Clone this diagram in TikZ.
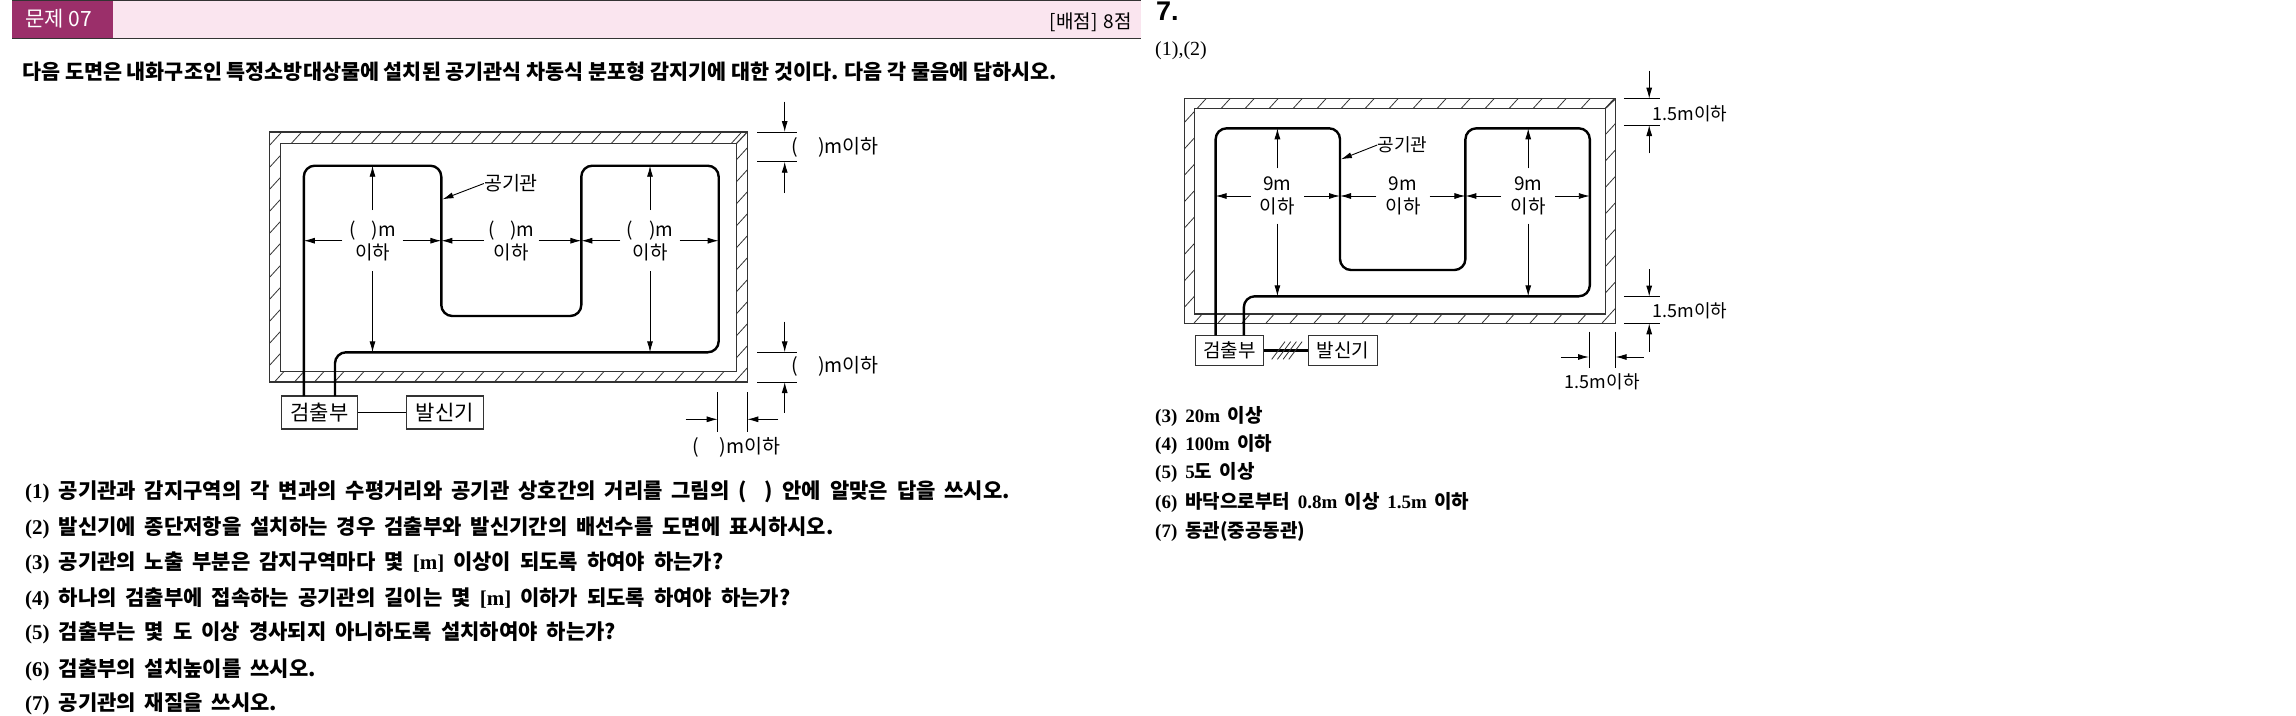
\documentclass[tikz,border=0pt]{standalone}
\usepackage{fontspec}
\setmainfont{Liberation Serif}
\newfontfamily\krfont{Noto Sans CJK KR}
\newfontfamily\latfont{Liberation Serif}
\newfontfamily\headfont{Liberation Sans}
\usetikzlibrary{arrows.meta, positioning}
\definecolor{bandpurple}{HTML}{9B2F6A}
\definecolor{bandpink}{HTML}{FAE5EF}
\definecolor{wallgray}{HTML}{333333}

\begin{document}
\begin{tikzpicture}[
        x=1pt, y=-1pt,
        >={Latex[length=11pt,width=6pt]},
        wall/.style={draw=wallgray, line width=1.1pt},
        hatchline/.style={draw=wallgray, line width=0.8pt},
        tube/.style={draw=black, line width=2.4pt, rounded corners=11pt},
        dimline/.style={draw=black, line width=0.9pt},
        dimarrow/.style={dimline, ->},
        unitbox/.style={rectangle, draw=wallgray, line width=1.1pt, fill=white, inner sep=0pt,
                        font=\krfont\fontsize{19}{21}\selectfont},
        span/.style={rectangle, inner sep=0pt, align=center, minimum height=61pt,
                     font=\krfont\fontsize{19}{23}\selectfont},
        spanb/.style={span, minimum height=55pt},
        dimtext/.style={inner sep=0pt, font=\krfont\fontsize{18}{21}\selectfont},
        dimtexta/.style={inner sep=0pt, font=\krfont\fontsize{19.5}{21}\selectfont},
        leadline/.style={anchor=west, inner sep=0pt, font=\krfont\bfseries\fontsize{20.7}{24}\selectfont},
        question/.style={anchor=west, inner sep=0pt, font={\krfont\bfseries\fontsize{21}{24}\selectfont\spaceskip=9pt\relax}},
        answer/.style={anchor=west, inner sep=0pt, font={\krfont\bfseries\fontsize{19}{22}\selectfont\spaceskip=7.5pt\relax}}
    ]
        \path[use as bounding box, fill=white] (0,0) rectangle (2296,715);

        % header band
        \fill[bandpink] (12,1) rectangle (1141,38);
        \fill[bandpurple] (12,1) rectangle (113,38);
        \draw[wallgray, line width=1pt] (12,38.5) -- (1141,38.5);
        \draw[wallgray, line width=1pt] (12,0.5) -- (1141,0.5);
        \node[anchor=west, inner sep=0pt, text=white, font=\krfont\fontsize{21}{24}\selectfont] (bandno) at (25,19) {문제 07};
        \node[anchor=east, inner sep=0pt, font={\krfont\fontsize{19}{20}\selectfont\spaceskip=6pt\relax}] (bandscore) at (1132,22) {[배점] 8점};
        \node[leadline] (lead) at (22,72) {다음 도면은 내화구조인 특정소방대상물에 설치된 공기관식 차동식 분포형 감지기에 대한 것이다. 다음 각 물음에 답하시오.};

        % left plan, wall
        \begin{scope}
            \clip (269.5,132) rectangle (747.3,382);
            \foreach \c in {281.7,301.7,...,1000}
                \draw[hatchline] ({\c},132) -- ({\c-300},462);
        \end{scope}
        \draw[wall] (269.5,132) rectangle (747.3,382);
        \draw[wall, fill=white] (280.5,143.3) rectangle (736.7,371.5);
        \draw[wall] (736.7,143.3) -- (747.3,132);

        \node[unitbox, minimum width=76pt, minimum height=33pt, font=\krfont\fontsize{21}{23}\selectfont] (detleft) at (319.6,412.5) {검출부};
        \node[unitbox, minimum width=76.5pt, minimum height=33pt, font=\krfont\fontsize{21}{23}\selectfont] (senderleft) at (444.8,412.5) {발신기};
        \draw[line width=1.4pt] (detleft) -- (senderleft);

        \coordinate (tubeina) at (303.8,396);
        \coordinate (tubeouta) at (335,396);
        \draw[tube] (tubeina) -- (303.8,165.7) -- (441.3,165.7) -- (441.3,316) -- (581.3,316)
            -- (581.3,165.7) -- (718.7,165.7) -- (718.7,352.3) -- (335,352.3) -- (tubeouta);

        \node[span, minimum width=60pt] (spana) at (372.5,240.7) {(\hspace{16pt})m\\이하};
        \node[span, minimum width=54pt] (spanb) at (511.3,240.7) {(\hspace{16pt})m\\이하};
        \node[span, minimum width=59pt] (spanc) at (650,240.7) {(\hspace{16pt})m\\이하};
        \draw[dimarrow] (spana) -- (303.8,240.7);
        \draw[dimarrow] (spana) -- (441.3,240.7);
        \draw[dimarrow] (spana) -- (372.5,165.7);
        \draw[dimarrow] (spana) -- (372.5,352.3);
        \draw[dimarrow] (spanb) -- (441.3,240.7);
        \draw[dimarrow] (spanb) -- (581.3,240.7);
        \draw[dimarrow] (spanc) -- (581.3,240.7);
        \draw[dimarrow] (spanc) -- (718.7,240.7);
        \draw[dimarrow] (spanc) -- (650,165.7);
        \draw[dimarrow] (spanc) -- (650,352.3);

        \node[dimtexta] (tubelabela) at (511,183.5) {공기관};
        \draw[dimarrow] (tubelabela.west) -- (442.5,199.3);

        % left plan, outer dimensions
        \draw[dimline] (757,132) -- (797,132);
        \draw[dimline] (757,161.7) -- (797,161.7);
        \draw[dimarrow] (784.7,101.7) -- (784.7,132);
        \draw[dimarrow] (784.7,193) -- (784.7,161.7);
        \node[dimtexta] (topa) at (835,147.3) {(\hspace{20pt})m이하};
        \draw[dimline] (757,352.3) -- (797,352.3);
        \draw[dimline] (757,382) -- (797,382);
        \draw[dimarrow] (784.7,321.7) -- (784.7,352.3);
        \draw[dimarrow] (784.7,412.7) -- (784.7,382);
        \node[dimtexta] (bota) at (835,366.7) {(\hspace{20pt})m이하};
        \draw[dimline] (717.7,392.3) -- (717.7,431.7);
        \draw[dimline] (747.3,392.3) -- (747.3,431.7);
        \draw[dimarrow] (685.6,419.3) -- (717.7,419.3);
        \draw[dimarrow] (778.4,419.3) -- (747.3,419.3);
        \node[dimtexta] (sidea) at (736.5,447.3) {(\hspace{20pt})m이하};

        % questions
        \node[question] (qa) at (25,492.3) {{\latfont(1)} 공기관과 감지구역의 각 변과의 수평거리와 공기관 상호간의 거리를 그림의 (\hspace{18pt}) 안에 알맞은 답을 쓰시오.};
        \node[question] (qb) at (25,528) {{\latfont(2)} 발신기에 종단저항을 설치하는 경우 검출부와 발신기간의 배선수를 도면에 표시하시오.};
        \node[question] (qc) at (25,563) {{\latfont(3)} 공기관의 노출 부분은 감지구역마다 몇 {\latfont[m]} 이상이 되도록 하여야 하는가?};
        \node[question] (qd) at (25,599) {{\latfont(4)} 하나의 검출부에 접속하는 공기관의 길이는 몇 {\latfont[m]} 이하가 되도록 하여야 하는가?};
        \node[question] (qe) at (25,633) {{\latfont(5)} 검출부는 몇 도 이상 경사되지 아니하도록 설치하여야 하는가?};
        \node[question] (qf) at (25,670) {{\latfont(6)} 검출부의 설치높이를 쓰시오.};
        \node[question] (qg) at (25,704) {{\latfont(7)} 공기관의 재질을 쓰시오.};

        % right side, answer
        \node[anchor=west, inner sep=0pt, font=\headfont\bfseries\fontsize{27}{30}\selectfont] (ansno) at (1156,11) {7.};
        \node[anchor=west, inner sep=0pt, font=\latfont\fontsize{20}{22}\selectfont] (ansfirst) at (1155,51) {(1),(2)};

        % right plan, wall
        \begin{scope}
            \clip (1184.4,98.7) rectangle (1615.6,323.3);
            \foreach \c in {1206,1230,...,1900}
                \draw[hatchline] ({\c},98.7) -- ({\c-300},428.7);
        \end{scope}
        \draw[wall] (1184.4,98.7) rectangle (1615.6,323.3);
        \draw[wall, fill=white] (1194.4,108.3) rectangle (1605.6,314);
        \draw[wall] (1605.6,108.3) -- (1615.6,98.7);

        \node[unitbox, minimum width=68pt, minimum height=30.5pt] (detright) at (1229.7,350.5) {검출부};
        \node[unitbox, minimum width=69pt, minimum height=30.5pt] (senderright) at (1343,350.5) {발신기};
        \draw[line width=2.4pt] (detright) -- (senderright);
        \foreach \c in {1271.7,1277.4,1283.1,1288.8}
            \draw[hatchline] ({\c},359.3) -- ({\c+13.3},341.6);

        \coordinate (tubeinb) at (1215.6,335.3);
        \coordinate (tubeoutb) at (1243.8,335.3);
        \draw[tube] (tubeinb) -- (1215.6,128.3) -- (1340,128.3) -- (1340,270) -- (1465.4,270)
            -- (1465.4,128.3) -- (1589.8,128.3) -- (1589.8,296.3) -- (1243.8,296.3) -- (tubeoutb);

        \node[spanb, minimum width=53pt] (spand) at (1277.4,196) {9m\\이하};
        \node[spanb, minimum width=53pt] (spane) at (1403,196) {9m\\이하};
        \node[spanb, minimum width=54pt] (spanf) at (1528.2,196) {9m\\이하};
        \draw[dimarrow] (spand) -- (1215.6,196);
        \draw[dimarrow] (spand) -- (1340,196);
        \draw[dimarrow] (spand) -- (1277.4,128.3);
        \draw[dimarrow] (spand) -- (1277.4,296.3);
        \draw[dimarrow] (spane) -- (1340,196);
        \draw[dimarrow] (spane) -- (1465.4,196);
        \draw[dimarrow] (spanf) -- (1465.4,196);
        \draw[dimarrow] (spanf) -- (1589.8,196);
        \draw[dimarrow] (spanf) -- (1528.2,128.3);
        \draw[dimarrow] (spanf) -- (1528.2,296.3);

        \node[dimtext] (tubelabelb) at (1402.3,145) {공기관};
        \draw[dimarrow] (tubelabelb.west) -- (1340.9,159.3);

        % right plan, outer dimensions
        \draw[dimline] (1623.9,98.7) -- (1659.5,98.7);
        \draw[dimline] (1623.9,125) -- (1659.5,125);
        \draw[dimarrow] (1649.2,70.7) -- (1649.2,98.7);
        \draw[dimarrow] (1649.2,153.3) -- (1649.2,125);
        \node[dimtext] (topb) at (1690,113.3) {1.5m이하};
        \draw[dimline] (1623.9,296.6) -- (1659.5,296.6);
        \draw[dimline] (1623.9,323.3) -- (1659.5,323.3);
        \draw[dimarrow] (1649.2,269.3) -- (1649.2,296.6);
        \draw[dimarrow] (1649.2,351.7) -- (1649.2,323.3);
        \node[dimtext] (botb) at (1690,310.7) {1.5m이하};
        \draw[dimline] (1589,331.7) -- (1589,367.7);
        \draw[dimline] (1615.6,331.7) -- (1615.6,367.7);
        \draw[dimarrow] (1560.8,357) -- (1589,357);
        \draw[dimarrow] (1643.8,357) -- (1615.6,357);
        \node[dimtext] (sideb) at (1602.3,381.7) {1.5m이하};

        % answers
        \node[answer] (anc) at (1155,416) {{\latfont(3)\hspace{8pt}20m} 이상};
        \node[answer] (and) at (1155,444.3) {{\latfont(4)\hspace{8pt}100m} 이하};
        \node[answer] (ane) at (1155,472.7) {{\latfont(5)\hspace{8pt}5}도 이상};
        \node[answer] (anf) at (1155,502.7) {{\latfont(6)\hspace{8pt}}바닥으로부터 {\latfont 0.8m} 이상 {\latfont 1.5m} 이하};
        \node[answer] (ang) at (1155,531.7) {{\latfont(7)\hspace{8pt}}동관(중공동관)};
    \end{tikzpicture}
\end{document}
